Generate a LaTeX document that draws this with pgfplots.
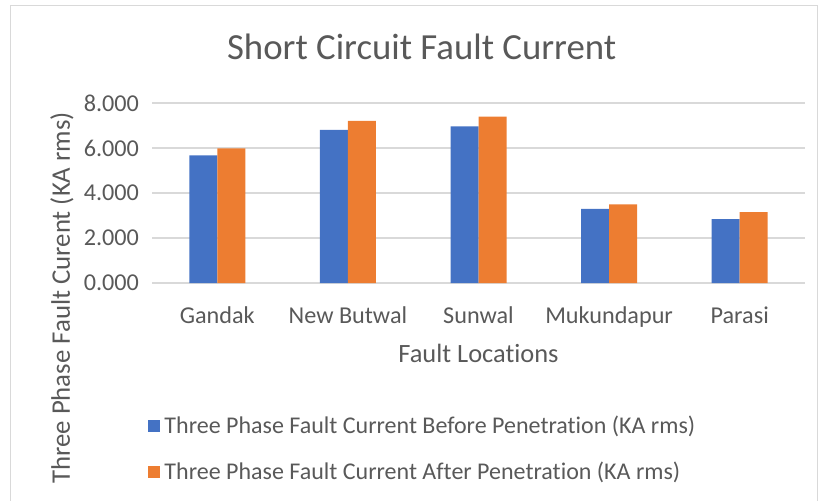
\documentclass[border=0pt]{standalone}
\usepackage{fontspec}
\setmainfont{Carlito}[Ligatures=NoCommon]
\usepackage{pgfplots}
\pgfplotsset{compat=1.18}
\definecolor{txt}{HTML}{595959}
\definecolor{grd}{HTML}{D9D9D9}
\definecolor{bblue}{HTML}{4472C4}
\definecolor{borange}{HTML}{ED7D31}
\begin{document}
\begin{tikzpicture}
% page = 822 x 501 px at 0.5pt per px
\useasboundingbox (0,0) rectangle (411pt,-250.5pt);
\draw[grd] (5pt,-250.5pt) -- (5pt,-2.5pt) -- (408.5pt,-2.5pt) -- (408.5pt,-250.5pt);
\begin{axis}[
    at={(76pt,-141.5pt)}, anchor=south west,
    scale only axis, width=326.5pt, height=90pt,
    ybar=0pt, bar width=14pt,
    ymin=0, ymax=8, ytick={0,2,4,6,8},
    yticklabels={0.000,2.000,4.000,6.000,8.000},
    xmin=-0.5, xmax=4.5, xtick=data,
    xticklabels={Gandak,New Butwal,Sunwal,Mukundapur,Parasi},
    axis line style={draw=none},
    major tick length=0pt,
    ymajorgrids, grid style={grd, line width=0.8pt},
    tick label style={font=\fontsize{12.1}{14}\selectfont, text=txt},
    yticklabel style={xshift=-3pt},
    xticklabel style={yshift=-8.5pt},
    title={Short Circuit Fault Current},
    title style={font=\fontsize{18.4}{21}\selectfont, text=txt,
        at={(rel axis cs:0.413,1.173)}, anchor=base},
    xlabel={Fault Locations},
    xlabel style={font=\fontsize{13.2}{15}\selectfont, text=txt,
        at={(rel axis cs:0.5,-0.389)}, anchor=center},
    ylabel={Three Phase Fault Curent (KA rms)},
    ylabel style={font=\fontsize{13.4}{15}\selectfont, text=txt,
        at={(rel axis cs:-0.138,-0.083)}, anchor=center},
    legend style={at={(rel axis cs:-0.006,-0.712)}, anchor=north west,
        draw=none, fill=none, font=\fontsize{12}{14}\selectfont,
        text=txt, row sep=8.8pt, inner sep=0pt},
    legend cell align=left,
    legend image code/.code={\fill[#1] (0pt,-3pt) rectangle (6pt,3pt);},
    clip=false,
]
\addplot[fill=bblue, draw=none] coordinates {
    (0,5.67) (1,6.80) (2,6.96) (3,3.29) (4,2.84)
};
\addplot[fill=borange, draw=none] coordinates {
    (0,5.98) (1,7.21) (2,7.39) (3,3.49) (4,3.15)
};
\legend{Three Phase Fault Current Before Penetration (KA rms),
        Three Phase Fault Current After Penetration (KA rms)}
\end{axis}
\end{tikzpicture}
\end{document}
